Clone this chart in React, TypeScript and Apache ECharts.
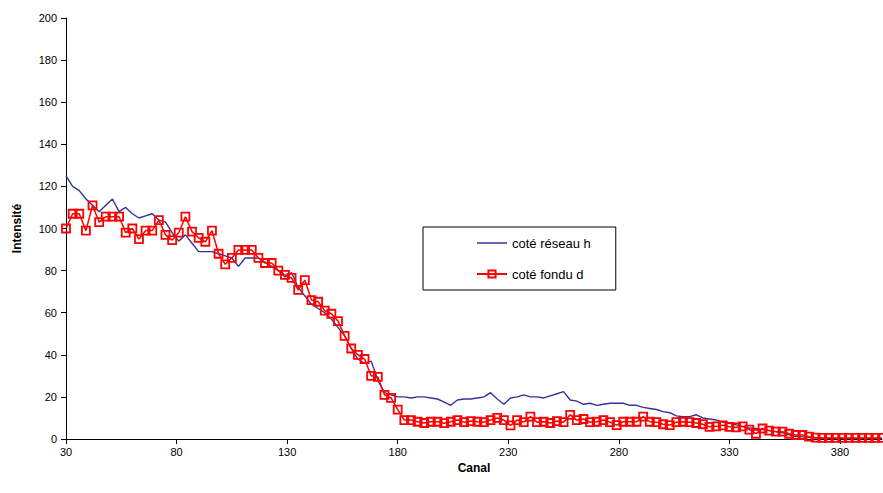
import React, { useEffect, useRef } from "react";
import * as echarts from "echarts";

const X_START = 30;
const X_STEP = 3;
const X_TICK_LABELS = ["30", "80", "130", "180", "230", "280", "330", "380"];

const reseauH = [
  125, 120, 118, 114, 111, 108, 111, 114, 108, 110, 107, 105, 106, 107, 104, 103, 98, 94, 97, 93,
  89, 89, 89, 88, 87, 86, 82, 86, 86, 86, 84, 82, 80, 77, 79, 72, 68, 64, 62, 60,
  57, 53, 49, 43, 38, 36, 37, 28, 22, 21, 20, 20, 19.5, 20, 20, 19.5, 19, 17.5, 16, 18.5,
  19, 19, 19.5, 20, 22, 19, 16.5, 19.5, 20, 21, 20, 20, 19.5, 20.5, 21.5, 22.5, 18.5, 18, 16.5, 17,
  16, 16.5, 17, 17, 17, 16, 16, 15, 14.5, 14, 13, 12.5, 11, 10.6, 10.6, 11.5, 10, 9.5, 9, 8,
  7.5, 6.7, 6, 5.2, 5, 4.5, 4, 3.5, 3, 2, 1.2, 1, 0.7, 0.5, 0.3, 0.3, 0.3, 0.3, 0.3, 0.3,
  0.3, 0.3, 0.3, 0.3,
];

const fonduD = [
  100, 107, 107, 99, 111, 103, 105.6, 105.6, 105.6, 98, 100, 95, 99, 99, 104, 97, 94.5, 98, 105.6, 98.5,
  95.5, 93.7, 99, 88, 83, 86, 89.8, 89.8, 89.8, 86, 83.6, 83.6, 80, 78, 76.5, 70.8, 75.5, 66, 65.2, 61,
  59.5, 56, 49, 43, 40, 38, 30, 29.5, 21, 19.5, 14, 9, 9, 8.2, 7.6, 8.2, 8.2, 7.5, 8.2, 9,
  8, 8.5, 8.2, 8, 9, 10, 9, 6.5, 9, 8, 10.6, 8, 8.2, 7.6, 8.5, 8, 11.5, 9, 9.5, 8,
  8.2, 9, 8, 6.6, 8.2, 8.2, 8.2, 10.6, 8.2, 8, 7, 6.6, 8, 8.2, 8, 7.6, 7, 5.8, 6, 6.5,
  5.8, 5.5, 6, 4.5, 2.5, 5, 4, 3.5, 3.5, 2.5, 1.9, 1.9, 1.1, 0.7, 0.5, 0.5, 0.5, 0.5, 0.5, 0.5,
  0.5, 0.5, 0.5, 0.5,
];

const canal = reseauH.map((_, i) => X_START + i * X_STEP);

const FONT = "Liberation Sans, Arial, sans-serif";

export default function App() {
  const ref = useRef<HTMLDivElement>(null);
  useEffect(() => {
    if (!ref.current) return;
    const chart = echarts.init(ref.current, null, { renderer: "svg" });
    const toPairs = (vals: number[]) => vals.map((v, i) => [canal[i] - X_START, v]);
    chart.setOption({
      animation: false,
      backgroundColor: "#ffffff",
      textStyle: { fontFamily: FONT },
      grid: { left: 66, right: 1, top: 18, bottom: 54 },
      legend: {
        orient: "vertical",
        left: 423,
        top: 227,
        padding: [9, 25, 9, 53],
        itemGap: 17,
        itemWidth: 30,
        itemHeight: 9,
        borderColor: "#000",
        borderWidth: 1,
        backgroundColor: "#fff",
        textStyle: { fontSize: 13, color: "#000", fontFamily: FONT, lineHeight: 14 },
        data: [
          { name: "coté réseau h", icon: "path://M0,0L30,0L30,1.5L0,1.5Z" },
          { name: "coté fondu d" },
        ],
      },
      xAxis: {
        type: "value",
        min: 0,
        max: canal[canal.length - 1] - X_START,
        interval: 50,
        name: "Canal",
        nameLocation: "middle",
        nameGap: 18,
        nameTextStyle: { fontWeight: "bold", fontSize: 12, color: "#000", fontFamily: FONT },
        axisLine: { lineStyle: { color: "#000", width: 1 } },
        axisTick: { show: true, length: 5, lineStyle: { color: "#000" } },
        axisLabel: {
          fontSize: 11,
          color: "#000",
          margin: 7,
          showMaxLabel: false,
          formatter: (v: number) => {
            const idx = Math.round(v / 50);
            return X_TICK_LABELS[idx] ?? "";
          },
        },
        splitLine: { show: false },
      },
      yAxis: {
        type: "value",
        min: 0,
        max: 200,
        interval: 20,
        name: "Intensité",
        nameLocation: "middle",
        nameGap: 43,
        nameTextStyle: { fontWeight: "bold", fontSize: 12, color: "#000", fontFamily: FONT },
        axisLine: { show: true, lineStyle: { color: "#000", width: 1 } },
        axisTick: { show: true, length: 5, lineStyle: { color: "#000" } },
        axisLabel: { fontSize: 11, color: "#000", margin: 9 },
        splitLine: { show: false },
      },
      series: [
        {
          name: "coté réseau h",
          type: "line",
          data: toPairs(reseauH),
          showSymbol: false,
          symbol: "none",
          lineStyle: { color: "#333399", width: 1.4 },
          itemStyle: { color: "#333399" },
          z: 2,
        },
        {
          name: "coté fondu d",
          type: "line",
          data: toPairs(fonduD),
          symbol: "rect",
          symbolSize: 8,
          lineStyle: { color: "#ff0000", width: 1.5 },
          itemStyle: { color: "rgba(255,255,255,0)", borderColor: "#ff0000", borderWidth: 1.8 },
          z: 3,
        },
      ],
    });
    return () => chart.dispose();
  }, []);
  return (
    <div
      ref={ref}
      style={{ position: "fixed", left: 0, top: 0, width: 883, height: 493 }}
    />
  );
}
